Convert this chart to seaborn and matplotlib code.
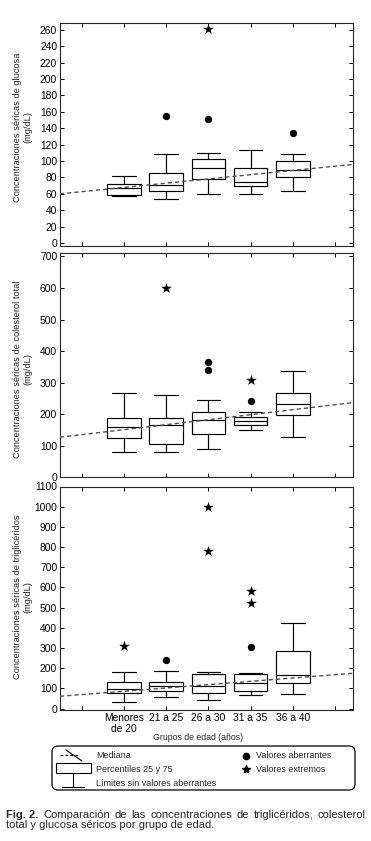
import numpy as np
import pandas as pd
import matplotlib
matplotlib.use("Agg")
import matplotlib.pyplot as plt
import seaborn as sns
from matplotlib.patches import FancyBboxPatch, Rectangle
from matplotlib.lines import Line2D

# ---------------- data ----------------
groups = ["Menores\nde 20", "21 a 25", "26 a 30", "31 a 35", "36 a 40"]

# glucose (mg/dL): lower whisker, P25, median, P75, upper whisker
glu_whislo = [57, 54, 60, 60, 63]
glu_q1 = [59, 63, 78.5, 69, 80]
glu_med = [67, 71, 92, 75, 88.5]
glu_q3 = [72.5, 86, 102.5, 92, 100]
glu_whishi = [82, 109, 110, 113, 109]
glu_out_groups = ["21 a 25", "26 a 30", "36 a 40"]
glu_out_values = [155, 151, 134]
glu_ext_groups = ["26 a 30"]
glu_ext_values = [261]
glu_trend = [60, 96]
glu_ticks = list(range(0, 261, 20))

# total cholesterol (mg/dL)
col_whislo = [80, 80, 89, 150, 127]
col_q1 = [124, 105, 136, 165, 196]
col_med = [161, 165, 181, 180, 232]
col_q3 = [188, 188, 207, 190, 267]
col_whishi = [267, 261, 245, 206, 336]
col_out_groups = ["26 a 30", "26 a 30", "31 a 35"]
col_out_values = [365, 340, 242]
col_ext_groups = ["21 a 25", "31 a 35"]
col_ext_values = [600, 308]
col_trend = [127, 237]
col_ticks = list(range(0, 701, 100))

# triglycerides (mg/dL)
tri_whislo = [31, 56, 41, 66, 71]
tri_q1 = [76, 86, 76, 86, 125]
tri_med = [96, 110, 110, 125, 165]
tri_q3 = [130, 130, 170, 170, 283]
tri_whishi = [180, 184, 180, 175, 422]
tri_out_groups = ["21 a 25", "31 a 35"]
tri_out_values = [239, 303]
tri_ext_groups = ["Menores\nde 20", "26 a 30", "26 a 30", "31 a 35", "31 a 35"]
tri_ext_values = [311, 998, 781, 583, 524]
tri_trend = [61, 175]
tri_ticks = list(range(0, 1101, 100))

ylabels = ["Concentraciones séricas de glucosa\n(mg/dL)",
           "Concentraciones séricas de colesterol total\n(mg/dL)",
           "Concentraciones séricas de triglicéridos\n(mg/dL)"]
xlabel = "Grupos de edad (años)"
legend_left = ["Mediana", "Percentiles 25 y 75", "Límites sin valores aberrantes"]
legend_right = ["Valores aberrantes", "Valores extremos"]
caption_bold = "Fig. 2."
caption_1 = "Comparación de las concentraciones de triglicéridos, colesterol"
caption_2 = "total y glucosa séricos por grupo de edad."

# ---------------- style ----------------
sns.set_style("ticks")
plt.rcParams["font.family"] = ["Liberation Sans", "DejaVu Sans"]
plt.rcParams["axes.linewidth"] = 0.8

W, H = 371, 841
fig = plt.figure(figsize=(W / 100, H / 100), dpi=100)

pos_of = {g: i + 1 for i, g in enumerate(groups)}
XLIM = (-0.52, 6.44)


def frac_axes(top, bottom, left=60, right=353.5):
    return [left / W, 1 - bottom / H, (right - left) / W, (bottom - top) / H]


def panel(rect, stats, out_g, out_v, ext_g, ext_v, trend, ticks, ylim, show_x):
    ax = fig.add_axes(rect)
    rows = []
    for i, g in enumerate(groups):
        for arr in stats:
            rows.append({"pos": pos_of[g], "value": arr[i]})
    df = pd.DataFrame(rows)
    sns.boxplot(data=df, x="pos", y="value", native_scale=True, whis=(0, 100),
                width=0.8, color="white", linecolor="black", linewidth=0.85,
                fliersize=0, ax=ax)
    # widen caps
    for ln in ax.lines:
        xd = np.asarray(ln.get_xdata(), float)
        yd = np.asarray(ln.get_ydata(), float)
        if len(xd) == 2 and yd[0] == yd[1] and 0.1 < abs(xd[1] - xd[0]) < 0.6:
            c = xd.mean()
            ln.set_xdata([c - 0.28, c + 0.28])
    sns.lineplot(x=list(XLIM), y=trend, color="#505050", linewidth=1.0,
                 linestyle=(0, (3, 2.2)), ax=ax, zorder=6)
    sns.scatterplot(x=[pos_of[g] for g in out_g], y=out_v, marker="o", s=28,
                    color="black", edgecolor="black", linewidth=0, ax=ax, zorder=7)
    sns.scatterplot(x=[pos_of[g] for g in ext_g], y=ext_v, marker="*", s=65,
                    color="black", edgecolor="black", linewidth=0, ax=ax, zorder=7)
    ax.set_xlim(*XLIM)
    ax.set_ylim(*ylim)
    ax.set_xticks(range(len(groups) + 2))
    if show_x:
        ax.set_xticklabels([""] + groups + [""])
    else:
        ax.set_xticklabels([])
    ax.set_yticks(ticks)
    ax.tick_params(direction="in", top=True, right=True, length=3, width=0.7,
                   labelsize=7.4, pad=2, colors="black")
    ax.set_xlabel("")
    ax.set_ylabel("")
    for s in ax.spines.values():
        s.set_visible(True)
        s.set_linewidth(0.8)
    return ax


ax1 = panel(frac_axes(22.5, 245.5), [glu_whislo, glu_q1, glu_med, glu_q3, glu_whishi],
            glu_out_groups, glu_out_values, glu_ext_groups, glu_ext_values,
            glu_trend, glu_ticks, (-3, 269), False)
ax2 = panel(frac_axes(253.3, 477.3), [col_whislo, col_q1, col_med, col_q3, col_whishi],
            col_out_groups, col_out_values, col_ext_groups, col_ext_values,
            col_trend, col_ticks, (0, 710), False)
ax3 = panel(frac_axes(486.5, 710), [tri_whislo, tri_q1, tri_med, tri_q3, tri_whishi],
            tri_out_groups, tri_out_values, tri_ext_groups, tri_ext_values,
            tri_trend, tri_ticks, (-7, 1100), True)

# ---------------- overlay (pixel coords) ----------------
ov = fig.add_axes([0, 0, 1, 1], zorder=10)
ov.set_xlim(0, W)
ov.set_ylim(H, 0)
ov.axis("off")
ov.patch.set_alpha(0)

for lab, yc in zip(ylabels, [127, 369, 597]):
    ov.text(22.5, yc, lab, rotation=90, ha="center", va="center",
            multialignment="center", fontsize=6.7)

ov.text(198, 737, xlabel, ha="center", va="center", fontsize=6.3)

# legend box
ov.add_patch(FancyBboxPatch((52, 746), 303, 44,
                            boxstyle="round,pad=0,rounding_size=6",
                            fill=False, edgecolor="black", linewidth=0.9))
ov.add_line(Line2D([60, 78], [755, 755], color="black", linewidth=0.8,
                   linestyle=(0, (2.5, 2))))
ov.add_line(Line2D([66, 82], [750, 761], color="black", linewidth=0.8))
ov.add_patch(Rectangle((56, 763), 35, 10, fill=False, edgecolor="black", linewidth=0.8))
ov.add_line(Line2D([73, 73], [773, 787], color="black", linewidth=0.8))
ov.add_line(Line2D([62, 84], [787, 787], color="black", linewidth=0.8))
for t, yc in zip(legend_left, [756, 769, 783]):
    ov.text(96, yc, t, ha="left", va="center", fontsize=6.5)
ov.plot([246], [756], marker="o", markersize=4.5, color="black", linestyle="none")
ov.plot([246], [769], marker="*", markersize=6, color="black", linestyle="none")
for t, yc in zip(legend_right, [756, 769]):
    ov.text(256, yc, t, ha="left", va="center", fontsize=6.5)

# caption (first line justified to full width)
CAP_FS = 8.0
renderer = fig.canvas.get_renderer()
words = [(caption_bold, "bold")] + [(w, "normal") for w in caption_1.split(" ")]
arts = [ov.text(0, 815, w, ha="left", va="center", fontsize=CAP_FS, fontweight=fw)
        for w, fw in words]
widths = [a.get_window_extent(renderer).width for a in arts]
x0, x1 = 6, 366
gap = (x1 - x0 - sum(widths)) / (len(arts) - 1)
x = x0
for a, wdt in zip(arts, widths):
    a.set_x(x)
    x += wdt + gap
ov.text(6, 825.5, caption_2, ha="left", va="center", fontsize=CAP_FS)

fig.savefig("out.png", dpi=100, facecolor="white")
